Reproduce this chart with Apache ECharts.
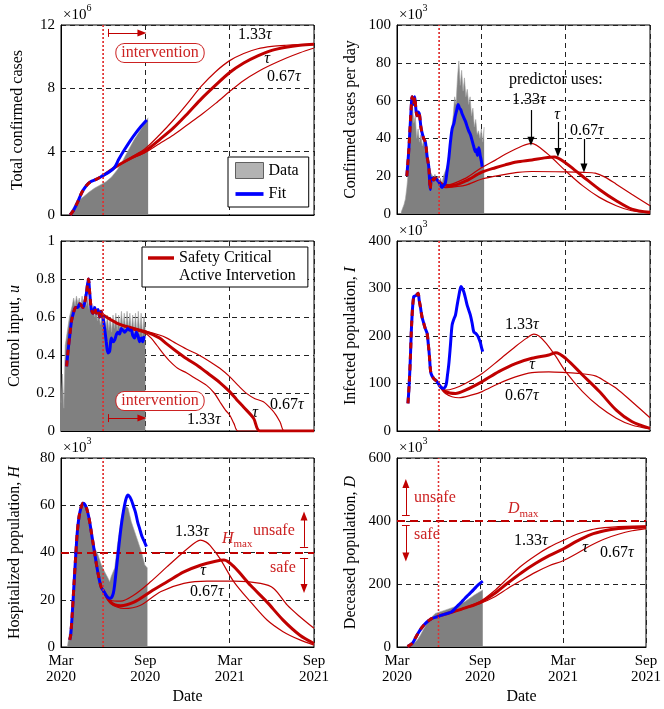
<!DOCTYPE html>
<html>
<head>
<meta charset="utf-8">
<script src="https://cdn.jsdelivr.net/npm/echarts@6/dist/echarts.min.js"></script>
<style>
html,body{margin:0;padding:0;background:#fff}
#main{width:664px;height:709px}
</style>
</head>
<body>
<div id="main"></div>
<script>
// x values are months since 1 Mar 2020
var tickLabels = ['Mar\n2020', 'Sep\n2020', 'Mar\n2021', 'Sep\n2021'];
var interventionMonth = 3.0;

// total confirmed cases (x10^6)
var casesData = [[0.57,0],[0.8,0.35],[1.0,0.65],[1.3,0.95],[1.6,1.15],[2.0,1.45],[2.4,1.7],[2.8,1.9],[3.2,2.1],[3.6,2.4],[4.0,2.85],[4.4,3.45],[4.8,4.1],[5.2,4.75],[5.6,5.3],[6.0,5.85],[6.2,6.15]];
var casesFit = [[0.65,0],[0.9,0.3],[1.2,0.85],[1.5,1.45],[1.8,1.85],[2.1,2.1],[2.5,2.25],[3.0,2.5],[3.4,2.7],[3.8,3.0],[4.1,3.5],[4.5,4.1],[4.9,4.65],[5.3,5.15],[5.7,5.6],[6.1,6.0]];
var casesTau = [[3,2.5],[4,3.1],[5,3.6],[6,4.05],[7,4.75],[8,5.5],[9,6.4],[10,7.35],[11,8.2],[12,9.0],[13,9.6],[14,10.05],[15,10.4],[16,10.6],[17,10.72],[18,10.78]];
var cases133 = [[3,2.5],[4,3.12],[5,3.65],[6,4.2],[7,5.05],[8,6.0],[9,7.05],[10,8.15],[11,9.05],[12,9.75],[13,10.2],[14,10.5],[15,10.65],[16,10.72],[17,10.76],[18,10.78]];
var cases067 = [[3,2.5],[4,3.08],[5,3.55],[6,3.95],[7,4.5],[8,5.05],[9,5.7],[10,6.35],[11,7.05],[12,7.8],[13,8.5],[14,9.05],[15,9.5],[16,9.9],[17,10.25],[18,10.55]];

// confirmed cases per day (x10^3), data sampled every 0.1 month from 0.3
var dailyStart = 0.3;
var dailyData = [1,3,5,8,14,22,32,45,58,48,52,40,45,38,42,36,39,33,36,27,26,22,21,19,21,18,20,17,19,16,20,19,24,26,33,38,46,52,62,58,72,81,68,76,65,72,62,66,58,62,52,56,46,50,42,44,40,45,38,46];
var dailyFit = [[0.7,20],[0.85,35],[1.0,55],[1.08,62],[1.18,58],[1.26,62],[1.35,55],[1.42,52],[1.5,54],[1.59,53],[1.7,46],[1.78,43],[1.9,40],[2.02,38],[2.15,30],[2.26,25],[2.33,16],[2.37,13],[2.42,18],[2.5,19],[2.6,18],[2.73,19],[2.85,18],[2.92,17.5],[3.05,16],[3.2,14],[3.3,15],[3.44,16.5],[3.55,22],[3.68,29],[3.8,38],[3.92,45],[4.05,48],[4.15,52],[4.25,55],[4.35,58],[4.45,56],[4.55,55],[4.63,53],[4.75,51],[4.87,49],[5.0,46],[5.1,44],[5.22,42],[5.34,39],[5.45,36],[5.58,33],[5.65,34],[5.72,31],[5.82,35],[5.92,31],[6.0,28],[6.06,25]];
var dailyTau = [[3,17],[3.3,15.5],[3.9,15],[4.9,17.5],[6,22],[7,24.5],[7.7,26],[8.5,27.5],[9.6,28.6],[10.5,29.7],[11.2,30.2],[12,27],[12.6,23.5],[13.2,20],[14.4,13],[15.6,7],[16.7,2.6],[18,0.9]];
var daily133 = [[3,17],[3.4,15],[4.9,19],[6,24.5],[7,28.5],[7.7,31.6],[8.9,36],[9.57,37.4],[10.6,32.5],[12,22.8],[13.2,15],[14.4,8.8],[15.6,4.4],[16.7,1.7],[18,0.5]];
var daily067 = [[3,17],[3.4,14],[4.2,14.5],[4.9,15.3],[6,18.4],[7,20],[7.7,21],[8.6,22],[9.6,22.5],[12,22.3],[13.3,22],[14.1,21.6],[14.8,19.5],[15.6,15.8],[16.7,10.5],[18,4.4]];

// control input u, data sampled every 0.1 month from 0
var controlStart = 0;
var controlData = [0.15,0.3,0.12,0.45,0.5,0.55,0.6,0.63,0.66,0.7,0.66,0.71,0.67,0.7,0.65,0.71,0.66,0.72,0.66,0.7,0.64,0.68,0.62,0.66,0.6,0.64,0.58,0.62,0.56,0.6,0.54,0.6,0.54,0.61,0.53,0.6,0.52,0.61,0.54,0.62,0.53,0.61,0.54,0.63,0.54,0.62,0.53,0.63,0.54,0.62,0.52,0.61,0.51,0.62,0.5,0.63,0.51,0.62,0.5,0.6,0.55];
var controlFit = [[0.4,0.34],[0.5,0.42],[0.62,0.5],[0.75,0.58],[0.88,0.62],[1.05,0.65],[1.2,0.65],[1.33,0.67],[1.45,0.66],[1.56,0.65],[1.7,0.68],[1.8,0.72],[1.95,0.8],[2.05,0.72],[2.16,0.64],[2.28,0.62],[2.4,0.65],[2.5,0.62],[2.63,0.64],[2.75,0.6],[2.85,0.63],[2.98,0.6],[3.1,0.54],[3.22,0.47],[3.34,0.41],[3.46,0.42],[3.58,0.49],[3.7,0.47],[3.82,0.48],[3.95,0.51],[4.05,0.52],[4.17,0.51],[4.29,0.54],[4.41,0.53],[4.53,0.52],[4.65,0.53],[4.76,0.54],[4.88,0.53],[5.0,0.53],[5.12,0.5],[5.24,0.49],[5.36,0.52],[5.48,0.5],[5.6,0.47],[5.72,0.49],[5.82,0.47],[5.92,0.5]];
var controlTau = [[3,0.61],[4,0.567],[5.17,0.54],[6,0.523],[7,0.49],[7.5,0.46],[8.2,0.42],[8.95,0.38],[9.8,0.34],[10.6,0.295],[11.3,0.255],[12,0.207],[12.5,0.165],[13,0.125],[13.7,0.067],[14.15,0],[18,0]];
var control133 = [[3,0.61],[4,0.565],[5,0.535],[6,0.514],[6.4,0.49],[6.83,0.45],[7.3,0.405],[7.77,0.365],[8.3,0.33],[8.95,0.305],[9.6,0.275],[10.36,0.24],[10.9,0.2],[11.3,0.154],[11.7,0.11],[12,0.084],[12.3,0.04],[12.6,0],[18,0]];
var control067 = [[3,0.61],[4,0.568],[5,0.54],[6,0.526],[7,0.505],[7.5,0.49],[8.2,0.46],[8.95,0.43],[9.8,0.4],[10.6,0.365],[11.3,0.33],[12,0.286],[12.6,0.24],[13.2,0.198],[13.8,0.17],[14.4,0.154],[14.9,0.12],[15.3,0.084],[15.6,0.045],[15.9,0],[18,0]];

// infected population I (x10^3)
var infFit = [[0.78,58],[0.87,100],[0.95,153],[1.05,230],[1.19,283],[1.35,285],[1.5,290],[1.58,275],[1.66,262],[1.78,240],[1.9,227],[2.02,215],[2.14,206],[2.22,185],[2.3,160],[2.36,135],[2.42,121],[2.6,111],[2.85,104],[3.09,93],[3.32,90],[3.49,97],[3.58,115],[3.68,139],[3.8,180],[3.92,223],[4.05,236],[4.16,244],[4.28,265],[4.39,283],[4.48,297],[4.56,304],[4.65,300],[4.75,293],[4.87,280],[4.99,265],[5.1,255],[5.22,244],[5.34,228],[5.46,209],[5.58,206],[5.7,202],[5.82,195],[5.94,185],[6.02,175],[6.1,167]];
var infTau = [[3,97],[3.44,83],[4.16,79],[4.87,86],[6.06,104],[7.24,125],[8.43,142],[9.6,153],[10.8,160],[11.3,165],[12,153],[13.2,118],[14.4,83],[15.6,44],[16.7,20],[18,5.6]];
var inf133 = [[3,97],[3.44,86],[4.1,90],[4.87,100],[6.06,121],[7.24,149],[8.43,178],[9.2,195],[9.74,204],[10.1,200],[10.6,185],[11.3,157],[12,125],[13.2,83],[14.4,51],[15.6,27],[16.7,12.6],[18,4.2]];
var inf067 = [[3,97],[3.44,79],[4.39,70],[5.34,76],[6.06,83],[7.24,100],[8.43,114],[9.6,123],[10.8,124.5],[12,123],[13,121],[14.1,116],[14.8,105],[15.6,90],[16.7,62],[18,28]];

// hospitalized population H (x10^3)
var hospData = [[0.45,0],[0.5,0.8],[0.73,10.7],[0.97,34.7],[1.2,53],[1.44,60],[1.68,60],[1.92,54.6],[2.16,47.4],[2.3,43],[2.4,41.9],[2.5,42.5],[2.63,39],[2.87,34.7],[3.1,31.9],[3.34,29.2],[3.46,27.6],[3.58,30],[3.7,29.5],[3.82,33.4],[4.05,44.6],[4.29,54.6],[4.53,60],[4.77,58.8],[5.0,53],[5.24,48.8],[5.48,44.6],[5.72,40.3],[5.96,34.7],[6.15,33.4]];
var hospFit = [[0.62,3],[0.69,5],[0.8,14],[0.92,26],[1.04,38],[1.16,48.7],[1.28,55],[1.4,58.5],[1.56,60.8],[1.68,60.5],[1.8,59],[1.92,56.5],[2.04,53],[2.16,48.5],[2.28,44],[2.4,39.5],[2.52,35],[2.64,31],[2.76,27.5],[2.88,25],[3.0,24],[3.12,22.8],[3.29,21.3],[3.45,20.6],[3.58,20.8],[3.72,22.7],[3.82,26.5],[3.92,32],[4.04,38.5],[4.16,45],[4.28,51],[4.4,56],[4.52,60],[4.64,63],[4.77,64.3],[4.9,63.5],[5.02,62],[5.16,59.5],[5.3,57],[5.45,53],[5.6,50],[5.75,47],[5.9,45],[6.08,42.5]];
var hospTau = [[3,24],[3.53,19],[4.24,17.5],[5.19,19],[6.37,23.4],[7.55,27.6],[8.74,31.8],[9.92,34.6],[11.0,36.3],[11.6,36.8],[12.3,34],[13.5,26],[14.66,19],[15.8,11.4],[17.0,5],[18,1.5]];
var hosp133 = [[3,24],[3.53,19.8],[4.24,19.4],[5.19,22],[6.37,27.6],[7.55,34],[8.74,40.3],[9.5,44],[9.92,45.2],[10.3,44.5],[10.6,43],[11.3,37.5],[12.3,27.6],[13.5,19],[14.66,11.4],[15.8,6.5],[17.0,3],[18,0.8]];
var hosp067 = [[3,24],[3.53,18.4],[4.48,16.3],[5.66,17.7],[7.08,23.4],[8.74,26.9],[10.4,27.9],[12.3,27.9],[14.2,26.9],[15.13,24.8],[16.1,17.7],[17.0,12.8],[18,7.9]];
var hospMax = 40;

// deceased population D (x10^3)
var deathData = [[0.76,0],[1.11,6],[1.47,22],[1.7,38],[1.82,48.6],[2.3,85.6],[2.77,106.7],[3.48,117],[4.19,128],[4.9,143.7],[5.6,165],[6.2,180.6]];
var deathFit = [[0.76,1],[1.11,11.6],[1.35,30],[1.59,48.6],[1.8,62],[2.06,75],[2.3,84],[2.53,90.8],[2.9,96],[3.24,101.4],[3.6,106],[3.96,112],[4.2,122],[4.43,133],[4.67,143],[4.9,154],[5.15,165],[5.38,175],[5.62,186],[5.85,196.5],[6.2,209]];
var deathTau = [[3,98],[4,111],[5,125],[6,141],[7,168],[8,203],[9,236],[10,265],[11,290],[12,311],[13,336],[14,357],[15,369],[16,376],[17,379],[18,381]];
var death133 = [[3,98],[4,112],[5,127],[6,144],[7,177],[8,218],[9,258],[10,290],[11,317],[12,338],[13,358],[14,372],[15,379],[16,382],[17,384],[18,384.5]];
var death067 = [[3,98],[4,110],[5,124],[6,138],[7,158],[8,186],[9,212],[10,237],[11,258],[12,274],[13,297],[14,322],[15,343],[16,358],[17,369],[18,376]];
var deathMax = 400;

var yMax = [12, 100, 1, 400, 80, 600];
var yStep = [4, 20, 0.2, 100, 20, 200];

var RED = '#c00000', BLUE = '#0000ff', GRAY = '#808080', TRED = '#cc2222';
var FONT = '"Liberation Serif", "DejaVu Serif", serif';
var LINE_ICON = 'path://M0 0H30V4H0Z';

function sampled(start, vals) {
  return vals.map(function (v, i) { return [+(start + i * 0.1).toFixed(2), v]; });
}
function before(fit, start) {
  return fit.filter(function (p) { return p[0] < interventionMonth; }).concat([start]);
}

function grayArea(g, data) {
  return {type: 'line', name: 'Data', xAxisIndex: g, yAxisIndex: g, data: data, symbol: 'none',
    lineStyle: {width: 0.6, color: '#a0a0a0'}, areaStyle: {color: GRAY, opacity: 1},
    itemStyle: {color: '#b3b3b3'}, z: 1, silent: true};
}
function curve(g, name, data, color, width, z, extra) {
  var s = {type: 'line', name: name, xAxisIndex: g, yAxisIndex: g, data: data, symbol: 'none',
    smooth: 0.3, lineStyle: {color: color, width: width}, itemStyle: {color: color}, z: z, silent: true};
  for (var k in extra) s[k] = extra[k];
  return s;
}
// dotted vertical line at the start of the intervention
function interventionLine(g) {
  return {type: 'line', name: 'iv' + g, xAxisIndex: g, yAxisIndex: g, symbol: 'none', silent: true, z: 2,
    data: [[interventionMonth, 0], [interventionMonth, yMax[g]]],
    lineStyle: {color: '#e03030', type: [2, 2], width: 1.3}};
}
function panel(g, gray, fit, tau, p133, p067) {
  var out = [];
  if (gray) out.push(grayArea(g, gray));
  out.push(interventionLine(g));
  out.push(curve(g, 'p133', p133, RED, 1.2, 3));
  out.push(curve(g, 'p067', p067, RED, 1.2, 3));
  out.push(curve(g, 'SCAI', tau, RED, 3, 4));
  out.push(curve(g, 'Fit', fit, BLUE, 3, 5));
  out.push(curve(g, 'early', before(fit, tau[0]), RED, 3, 6, {lineStyle: {color: RED, width: 3, type: [6, 5]}}));
  return out;
}
function marks(g, items) {
  return {type: 'line', name: 'ann' + g, xAxisIndex: g, yAxisIndex: g, data: [], z: 8, silent: true,
    markLine: {silent: true, symbol: 'none', animation: false, label: {show: false},
      lineStyle: {color: RED, type: 'solid', width: 1}, data: items}};
}
function arrow(x1, y1, x2, y2, color, w) {
  return [{coord: [x1, y1], symbol: 'none', lineStyle: {color: color, width: w || 1, type: 'solid'}},
          {coord: [x2, y2], symbol: 'triangle', symbolSize: [7, 9]}];
}
function bar(x1, y1, x2, y2, color) {
  return [{coord: [x1, y1], symbol: 'none', lineStyle: {color: color, width: 1, type: 'solid'}},
          {coord: [x2, y2], symbol: 'none'}];
}
function hline(v) {
  return [{coord: [0, v], symbol: 'none', lineStyle: {color: RED, width: 2, type: [8, 5]}},
          {coord: [18, v], symbol: 'none'}];
}

var gridBox = [
  {left: 61, top: 25, width: 253, height: 190},
  {left: 397, top: 25, width: 253, height: 189},
  {left: 61, top: 241, width: 253, height: 190},
  {left: 397, top: 241, width: 253, height: 190},
  {left: 61, top: 458, width: 253, height: 189},
  {left: 397, top: 458, width: 253, height: 189}
];
var dashGrid = {show: true, lineStyle: {color: '#222', type: [5, 4], width: 1}};
var rich = {i: {fontStyle: 'italic', fontFamily: FONT, fontSize: 16, color: '#000'}};

function xAx(g) {
  var bottom = g >= 4;
  return {type: 'value', gridIndex: g, min: 0, max: 18, interval: 6,
    axisLine: {show: true, lineStyle: {color: '#000'}}, axisTick: {show: false},
    axisLabel: {show: bottom, formatter: function (v) { return tickLabels[v / 6]; },
      fontFamily: FONT, fontSize: 15, color: '#000', lineHeight: 16, margin: 6},
    splitLine: dashGrid,
    name: bottom ? 'Date' : '', nameLocation: 'middle', nameGap: 42,
    nameTextStyle: {fontFamily: FONT, fontSize: 16, color: '#000'}};
}
function yAx(g, name, gap) {
  return {type: 'value', gridIndex: g, min: 0, max: yMax[g], interval: yStep[g],
    name: name, nameLocation: 'middle', nameGap: gap,
    nameTextStyle: {fontFamily: FONT, fontSize: 16, color: '#000', rich: rich},
    axisLine: {show: true, lineStyle: {color: '#000'}}, axisTick: {show: false},
    axisLabel: {fontFamily: FONT, fontSize: 15, color: '#000', margin: 6},
    splitLine: dashGrid};
}

var txtRich = {
  i: {fontStyle: 'italic', fontFamily: FONT, fontSize: 16},
  b: {fontFamily: FONT, fontSize: 15, lineHeight: 20, verticalAlign: 'bottom'},
  s: {fontFamily: FONT, fontSize: 10, lineHeight: 20, verticalAlign: 'top'},
  h: {fontStyle: 'italic', fontFamily: FONT, fontSize: 16, lineHeight: 19, verticalAlign: 'top'},
  m: {fontFamily: FONT, fontSize: 11, lineHeight: 19, verticalAlign: 'bottom'}
};
function txt(x, y, s, color, align) {
  return {type: 'text', x: x, y: y, z: 100, silent: true,
    style: {text: s, fill: color || '#000', fontFamily: FONT, fontSize: 16,
      align: align || 'left', verticalAlign: 'middle', rich: txtRich}};
}
function boxTxt(x, y, s) {
  return {type: 'text', x: x, y: y, z: 100, silent: true,
    style: {text: s, fill: TRED, fontFamily: FONT, fontSize: 16, align: 'center', verticalAlign: 'middle',
      backgroundColor: '#fff', borderColor: TRED, borderWidth: 1, borderRadius: 8, padding: [1, 5, 1, 5]}};
}
var tau = '{i|τ}';

var series = [].concat(
  panel(0, casesData, casesFit, casesTau, cases133, cases067),
  panel(1, sampled(dailyStart, dailyData), dailyFit, dailyTau, daily133, daily067),
  panel(2, sampled(controlStart, controlData), controlFit, controlTau, control133, control067),
  panel(3, null, infFit, infTau, inf133, inf067),
  panel(4, hospData, hospFit, hospTau, hosp133, hosp067),
  panel(5, deathData, deathFit, deathTau, death133, death067),
  [
    marks(0, [bar(3.34, 11.25, 3.34, 11.75, RED), arrow(3.34, 11.5, 5.76, 11.5, RED)]),
    marks(1, [arrow(9.53, 55, 9.53, 38.5, '#000', 1.2), arrow(11.45, 48.7, 11.45, 32.5, '#000', 1.2), arrow(13.3, 39.7, 13.3, 24.3, '#000', 1.2)]),
    marks(2, [bar(3.34, 0.047, 3.34, 0.089, RED), arrow(3.34, 0.068, 5.76, 0.068, RED)]),
    marks(4, [
      hline(hospMax),
      bar(17.0, 42.4, 17.58, 42.4, RED), arrow(17.29, 42.4, 17.29, 55.5, RED),
      bar(17.0, 37.7, 17.58, 37.7, RED), arrow(17.29, 37.7, 17.29, 24.8, RED)]),
    marks(5, [
      hline(deathMax),
      bar(0.36, 418, 0.92, 418, RED), arrow(0.64, 418, 0.64, 519, RED),
      bar(0.36, 386.6, 0.92, 386.6, RED), arrow(0.64, 386.6, 0.64, 286, RED)])
  ]
);

var graphics = [
  txt(63, 13, '{b|×10}{s|6}'),
  boxTxt(160, 53, 'intervention'),
  txt(238, 35, '1.33' + tau),
  txt(267, 59, tau, '#000', 'center'),
  txt(267, 77, '0.67' + tau),

  txt(399, 13, '{b|×10}{s|3}'),
  txt(509, 80, 'predictor uses:'),
  txt(512, 100, '1.33' + tau),
  txt(557, 115, tau, '#000', 'center'),
  txt(570, 131, '0.67' + tau),

  txt(179, 276, 'Active Intervetion'),
  boxTxt(160, 401, 'intervention'),
  txt(187, 420, '1.33' + tau),
  txt(255, 413, tau, '#000', 'center'),
  txt(270, 405, '0.67' + tau),

  txt(399, 229, '{b|×10}{s|3}'),
  txt(505, 325, '1.33' + tau),
  txt(532, 365, tau, '#000', 'center'),
  txt(505, 396, '0.67' + tau),

  txt(63, 446, '{b|×10}{s|3}'),
  txt(175, 532, '1.33' + tau),
  txt(222, 540, '{h|H}{m|max}', TRED),
  txt(253, 531, 'unsafe', TRED),
  txt(270, 568, 'safe', TRED),
  txt(203, 571, tau, '#000', 'center'),
  txt(190, 592, '0.67' + tau),

  txt(399, 446, '{b|×10}{s|3}'),
  txt(508, 510, '{h|D}{m|max}', TRED),
  txt(414, 498, 'unsafe', TRED),
  txt(414, 535, 'safe', TRED),
  txt(514, 541, '1.33' + tau),
  txt(585, 548, tau, '#000', 'center'),
  txt(600, 553, '0.67' + tau)
];

var chart = echarts.init(document.getElementById('main'));
chart.setOption({
  animation: false,
  backgroundColor: '#fff',
  grid: gridBox.map(function (b) {
    return {left: b.left, top: b.top, width: b.width, height: b.height, show: true, borderColor: '#000', borderWidth: 1};
  }),
  xAxis: [0, 1, 2, 3, 4, 5].map(xAx),
  yAxis: [
    yAx(0, 'Total confirmed cases', 35),
    yAx(1, 'Confirmed cases per day', 38),
    yAx(2, 'Control input, {i|u}', 38),
    yAx(3, 'Infected population, {i|I}', 38),
    yAx(4, 'Hospitalized population, {i|H}', 38),
    yAx(5, 'Deceased population, {i|D}', 38)
  ],
  legend: [
    {left: 228, top: 157, orient: 'vertical', selectedMode: false,
      data: [
        {name: 'Data', icon: 'rect', itemStyle: {color: '#b3b3b3', borderColor: '#606060', borderWidth: 1}},
        {name: 'Fit', icon: LINE_ICON, itemStyle: {color: BLUE, borderWidth: 0}}
      ],
      borderColor: '#000', borderWidth: 1, backgroundColor: '#fff', borderRadius: 0,
      padding: [5, 10, 5, 7], itemGap: 7, itemWidth: 28, itemHeight: 16,
      textStyle: {fontFamily: FONT, fontSize: 16, color: '#000'}},
    {left: 142, top: 247, orient: 'vertical', selectedMode: false,
      data: [{name: 'SCAI', icon: LINE_ICON, itemStyle: {color: RED, borderWidth: 0}}],
      formatter: function () { return 'Safety Critical'; },
      borderColor: '#000', borderWidth: 1, backgroundColor: '#fff', borderRadius: 0,
      padding: [3, 36, 21, 6], itemWidth: 26, itemHeight: 16,
      textStyle: {fontFamily: FONT, fontSize: 16, color: '#000'}}
  ],
  graphic: graphics,
  series: series
});

// also draw the intervention line as an overlay, placed through each grid's own scales
try {
  var ivLines = [0, 1, 2, 3, 4, 5].map(function (g) {
    var p0 = chart.convertToPixel({gridIndex: g}, [interventionMonth, 0]);
    var p1 = chart.convertToPixel({gridIndex: g}, [interventionMonth, yMax[g]]);
    return {type: 'line', z: 50, silent: true,
      shape: {x1: p0[0], y1: p0[1], x2: p1[0], y2: p1[1]},
      style: {stroke: '#e03030', lineWidth: 1.3, lineDash: [2, 2]}};
  });
  chart.setOption({graphic: graphics.concat(ivLines)});
} catch (e) {}
</script>
</body>
</html>
